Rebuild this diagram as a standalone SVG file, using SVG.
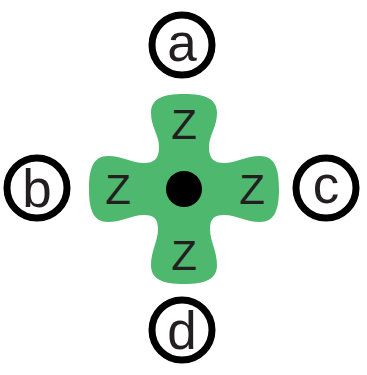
<svg xmlns="http://www.w3.org/2000/svg" width="367" height="375" viewBox="0 0 367 375">
<style>
.ring{fill:#fff;stroke:#000;stroke-width:7}
.lbl{font-family:"Liberation Sans",Arial,sans-serif;font-size:53px;fill:#231f20;text-anchor:middle}
.z{font-family:"Liberation Sans",Arial,sans-serif;font-size:42px;fill:#231f20;text-anchor:middle}
</style>
<g id="hub" transform="translate(184,189)">
<path fill="#4db86e" d="M0,-95 C22,-95 33,-90 33,-76 C33,-62 25,-54 25,-42 C25,-30 30,-26 40,-26 C52,-26 62,-33 76,-33 C90,-33 95,-22 95,0 C95,22 90,33 76,33 C62,33 52,26 40,26 C30,26 26,30 26,40 C26,52 33,62 33,76 C33,90 22,95 0,95 C-22,95 -33,90 -33,76 C-33,62 -26,52 -26,40 C-26,30 -30,26 -40,26 C-52,26 -62,33 -76,33 C-90,33 -95,22 -95,0 C-95,-22 -90,-33 -76,-33 C-62,-33 -52,-26 -40,-26 C-30,-26 -25,-30 -25,-42 C-25,-54 -33,-62 -33,-76 C-33,-90 -22,-95 0,-95 Z"/>
<circle cx="0" cy="0" r="18" fill="#000"/>
<text class="z" x="0" y="-50">Z</text>
<text class="z" x="-66" y="15">Z</text>
<text class="z" x="68" y="15">Z</text>
<text class="z" x="0" y="81">Z</text>
</g>
<g id="a"><circle class="ring" cx="182" cy="45" r="30"/><text class="lbl" x="182" y="61">a</text></g>
<g id="b"><circle class="ring" cx="37" cy="188" r="30"/><text class="lbl" x="37" y="207">b</text></g>
<g id="c"><circle class="ring" cx="326" cy="188" r="30"/><text class="lbl" x="326" y="203">c</text></g>
<g id="d"><circle class="ring" cx="182" cy="330" r="30"/><text class="lbl" x="182" y="349">d</text></g>
</svg>
